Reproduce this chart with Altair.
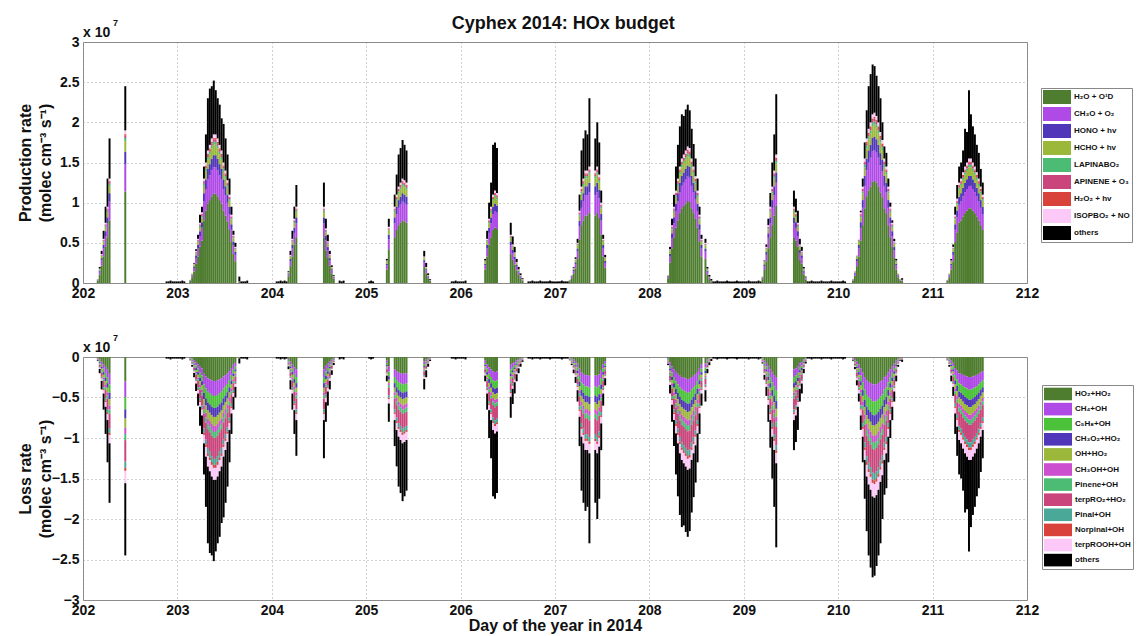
import altair as alt
import pandas as pd

# ---------------- data (units of 1e7 molec cm-3 s-1) ----------------
DAY_TICKS = [202, 203, 204, 205, 206, 207, 208, 209, 210, 211, 212]
PROD_TICKS = [0, 0.5, 1, 1.5, 2, 2.5, 3]
LOSS_TICKS = [0, -0.5, -1, -1.5, -2, -2.5, -3]
SLOT_H = 0.5  # half-hour data slots

# (day, start hour of first slot, total rate per slot, coloured (named-reaction) part per slot)
SEGMENTS = [
    (202, 3.5, [0.05, 0.2, 0.4, 0.65, 0.95, 1.3, 1.8], [0.05, 0.18, 0.36, 0.55, 0.75, 0.95, 1.3]),
    (202, 10.5, [2.45], [1.9]),
    (202, 21.0, [0.02, 0.02, 0.03, 0.02, 0.02, 0.02], [0, 0, 0, 0, 0, 0]),
    (203, 0.0, [0.02, 0.02, 0.03, 0.02], [0, 0, 0, 0]),
    (203, 3.0, [0.04, 0.12, 0.25, 0.42, 0.6, 0.85, 0.95, 1.45, 1.85, 2.3, 2.42, 2.45,
                2.52, 2.4, 2.3, 2.22, 2.05, 1.98, 1.8, 1.6, 1.3, 0.95, 0.65, 0.5],
               [0.04, 0.12, 0.24, 0.4, 0.55, 0.75, 0.88, 1.3, 1.5, 1.65, 1.72, 1.8,
                1.85, 1.85, 1.8, 1.72, 1.65, 1.5, 1.4, 1.28, 1.1, 0.85, 0.6, 0.45]),
    (203, 15.5, [0.08, 0.02, 0.02, 0.02, 0.03], [0.02, 0, 0, 0, 0]),
    (204, 1.0, [0.02, 0.02, 0.03, 0.02, 0.03, 0.02], [0, 0, 0, 0, 0, 0]),
    (204, 4.0, [0.15, 0.4, 0.65, 0.95, 1.22], [0.14, 0.35, 0.55, 0.8, 0.95]),
    (204, 13.0, [1.25, 0.8, 0.6, 0.4, 0.22, 0.1], [0.95, 0.68, 0.52, 0.36, 0.2, 0.09]),
    (204, 17.0, [0.03, 0.02, 0.03], [0, 0, 0]),
    (205, 0.5, [0.02, 0.03, 0.02], [0, 0, 0]),
    (205, 5.0, [0.3, 0.8], [0.28, 0.7]),
    (205, 7.0, [1.1, 1.35, 1.6, 1.68, 1.78, 1.72, 1.65], [0.95, 1.1, 1.2, 1.25, 1.3, 1.28, 1.25]),
    (205, 14.5, [0.4, 0.25, 0.12, 0.05], [0.33, 0.2, 0.1, 0.04]),
    (205, 21.5, [0.02, 0.02, 0.03, 0.02, 0.02], [0, 0, 0, 0, 0]),
    (206, 0.0, [0.02, 0.02, 0.03], [0, 0, 0]),
    (206, 6.0, [0.3, 0.65, 1.0, 1.25, 1.72, 1.75, 1.68], [0.28, 0.55, 0.8, 0.95, 1.1, 1.15, 1.12]),
    (206, 12.5, [0.75, 0.58, 0.45, 0.3, 0.2, 0.12, 0.06], [0.6, 0.48, 0.38, 0.26, 0.17, 0.1, 0.05]),
    (206, 17.0, [0.02, 0.02, 0.03, 0.02, 0.02, 0.02, 0.03, 0.02, 0.02, 0.02, 0.02, 0.03, 0.02, 0.02],
                [0, 0, 0, 0, 0, 0, 0, 0, 0, 0, 0, 0, 0, 0]),
    (207, 0.0, [0.02, 0.02, 0.02, 0.03, 0.02, 0.02, 0.02], [0, 0, 0, 0, 0, 0, 0]),
    (207, 3.5, [0.04, 0.1, 0.2, 0.32, 0.55, 1.1, 1.65, 1.8, 1.9, 1.85, 2.3],
               [0.04, 0.1, 0.19, 0.3, 0.5, 0.9, 1.2, 1.3, 1.4, 1.4, 1.45]),
    (207, 10.0, [1.8, 2.0, 1.75, 1.15, 0.6, 0.35], [1.4, 1.45, 1.35, 1.0, 0.55, 0.32]),
    (208, 4.5, [0.1, 0.45, 0.8, 1.1, 1.45, 1.72, 1.95, 2.1, 2.08, 2.16, 2.22, 2.15,
                1.92, 1.73, 1.55, 1.3, 0.95, 0.6],
               [0.1, 0.42, 0.72, 0.95, 1.15, 1.3, 1.45, 1.55, 1.6, 1.65, 1.7, 1.68,
                1.55, 1.45, 1.33, 1.15, 0.85, 0.55]),
    (208, 14.0, [0.55, 0.2, 0.1, 0.05], [0.5, 0.18, 0.08, 0.03]),
    (208, 16.0, [0.02, 0.02, 0.03, 0.02, 0.02, 0.02, 0.02, 0.03, 0.02, 0.02, 0.02, 0.02, 0.03, 0.02, 0.02, 0.02],
                [0, 0, 0, 0, 0, 0, 0, 0, 0, 0, 0, 0, 0, 0, 0, 0]),
    (209, 0.0, [0.02, 0.02, 0.03, 0.02, 0.02, 0.02, 0.02, 0.03, 0.02], [0, 0, 0, 0, 0, 0, 0, 0, 0]),
    (209, 4.5, [0.08, 0.28, 0.48, 0.8, 1.12, 1.5, 1.85, 2.35], [0.08, 0.27, 0.45, 0.72, 0.95, 1.2, 1.4, 1.6]),
    (209, 12.5, [1.15, 1.05, 0.9, 0.55, 0.45, 0.2, 0.08], [0.95, 0.88, 0.75, 0.48, 0.4, 0.18, 0.07]),
    (209, 16.0, [0.02, 0.02, 0.03, 0.02, 0.02, 0.02, 0.02, 0.03, 0.02, 0.02, 0.02, 0.02, 0.03, 0.02, 0.02, 0.02],
                [0, 0, 0, 0, 0, 0, 0, 0, 0, 0, 0, 0, 0, 0, 0, 0]),
    (210, 0.0, [0.02, 0.02, 0.03, 0.02], [0, 0, 0, 0]),
    (210, 3.5, [0.05, 0.15, 0.35, 0.55, 0.9, 1.3, 1.75, 2.15, 2.45, 2.6, 2.72, 2.7, 2.58,
                2.45, 2.3, 2.0, 1.7, 1.62, 1.3, 1.0, 0.78, 0.55, 0.3, 0.12, 0.05, 0.06],
               [0.05, 0.15, 0.35, 0.55, 0.88, 1.2, 1.55, 1.8, 1.92, 2.0, 2.1, 2.12, 2.08,
                2.0, 1.88, 1.78, 1.55, 1.45, 1.2, 0.95, 0.75, 0.52, 0.28, 0.12, 0.05, 0.04]),
    (211, 3.5, [0.04, 0.12, 0.3, 0.48, 0.95, 1.22, 1.45, 1.5, 1.65, 1.92, 1.88, 2.4, 2.1,
                1.95, 1.85, 1.72, 1.62, 1.42, 1.25],
               [0.04, 0.12, 0.28, 0.45, 0.85, 1.05, 1.25, 1.3, 1.38, 1.45, 1.5, 1.55, 1.55,
                1.5, 1.45, 1.38, 1.3, 1.2, 1.1]),
]

PROD_SPECIES = ["H\u2082O + O\u00b9D", "CH\u2083O + O\u2082", "HONO + hv", "HCHO + hv",
                "LAPINABO\u2082", "APINENE + O\u2083", "H\u2082O\u2082 + hv",
                "ISOPBO\u2082 + NO", "others"]
# share of the coloured part taken by each named production channel
PROD_SHARES = [0.60, 0.18, 0.08, 0.07, 0.02, 0.015, 0.01, 0.025]
PROD_COLORS = ["#4f7d30", "#b04ae6", "#5036b8", "#9bb83a", "#4cbb74",
               "#c9457b", "#d9423a", "#fbc8f7", "#000000"]

LOSS_SPECIES = ["HO\u2082+HO\u2082", "CH\u2084+OH", "C\u2085H\u2088+OH", "CH\u2083O\u2082+HO\u2082",
                "OH+HO\u2082", "CH\u2083OH+OH", "Pinene+OH", "terpRO\u2082+HO\u2082",
                "Pinal+OH", "Norpinal+OH", "terpROOH+OH", "others"]
# loss channels relative to the coloured production part
LOSS_SHARES = [0.16, 0.10, 0.08, 0.06, 0.06, 0.04, 0.04, 0.14, 0.04, 0.02, 0.08]
LOSS_COLORS = ["#4f7d30", "#b04ae6", "#4cc23a", "#5036b8", "#9bb83a", "#cc4fd0",
               "#4cbb74", "#c9457b", "#4aa898", "#d9423a", "#fbc8f7", "#000000"]


def build(sign, species, shares):
    rows = []
    for day, h0, totals, coloured in SEGMENTS:
        for k, (tot, col) in enumerate(zip(totals, coloured)):
            t0 = day + (h0 + k * SLOT_H) / 24.0
            t1 = t0 + SLOT_H / 24.0
            parts = [col * s for s in shares]
            parts.append(max(tot - sum(parts), 0.0))
            cum = 0.0
            for name, v in zip(species, parts):
                if v <= 0:
                    continue
                rows.append({"t0": t0, "t1": t1, "species": name,
                             "v0": sign * cum, "v1": sign * (cum + v)})
                cum += v
    return pd.DataFrame(rows)


prod_df = build(1, PROD_SPECIES, PROD_SHARES)
loss_df = build(-1, LOSS_SPECIES, LOSS_SHARES)

FONT = "Liberation Sans"
W, H1, H2 = 944, 241, 243


def panel(df, species, colors, domain, ticks, ytitle, legx, legy, sym_path, row_pad, xtitle, h):
    xaxis = dict(values=DAY_TICKS, format="d", labelFlush=False, labelPadding=3,
                 labelOverlap=False)
    if xtitle:
        xaxis["titlePadding"] = 0
    bars = alt.Chart(df).mark_rect(strokeWidth=0).encode(
        x=alt.X("t0:Q", scale=alt.Scale(domain=[202, 212], nice=False, zero=False),
                axis=alt.Axis(**xaxis), title=xtitle if xtitle else None),
        x2="t1:Q",
        y=alt.Y("v0:Q", scale=alt.Scale(domain=domain, nice=False, zero=False),
                axis=alt.Axis(values=ticks, format="~g", labelPadding=4,
                              minExtent=28, maxExtent=28, titlePadding=2,
                              titleLineHeight=20),
                title=ytitle),
        y2="v1:Q",
        color=alt.Color("species:N",
                        scale=alt.Scale(domain=species, range=colors),
                        title=None,
                        legend=alt.Legend(orient="none", legendX=legx, legendY=legy,
                                          symbolType=sym_path, symbolSize=196,
                                          symbolStrokeWidth=0, symbolOpacity=1,
                                          labelFont=FONT, labelFontWeight="bold",
                                          labelFontSize=8, labelColor="#111",
                                          labelLimit=57, labelOffset=17,
                                          rowPadding=row_pad, padding=2,
                                          strokeColor="#888", fillColor="white")),
    )
    exp = alt.Chart(pd.DataFrame({"s": ["x 10"]})).mark_text(
        align="left", baseline="middle", font=FONT, fontWeight="bold", fontSize=14,
        color="#111").encode(x=alt.value(0), y=alt.value(-9), text="s:N")
    sup = alt.Chart(pd.DataFrame({"s": ["7"]})).mark_text(
        align="left", baseline="middle", font=FONT, fontWeight="bold", fontSize=9,
        color="#111").encode(x=alt.value(30), y=alt.value(-19), text="s:N")
    return alt.layer(bars, exp, sup).properties(width=W, height=h)


top = panel(prod_df, PROD_SPECIES, PROD_COLORS, [0, 3], PROD_TICKS,
            ["Production rate", "(molec cm\u207b\u00b3 s\u207b\u00b9)"],
            958, 46, "M-1,-1H3V1H-1Z", 3, None, H1)
bottom = panel(loss_df, LOSS_SPECIES, LOSS_COLORS, [-3, 0], LOSS_TICKS,
               ["Loss rate", "(molec cm\u207b\u00b3 s\u207b\u00b9)"],
               959, 28, "M-1,-0.9H3V0.9H-1Z", 1.1, "Day of the year in 2014", H2)

chart = alt.vconcat(top, bottom, spacing=32).resolve_scale(color="independent").properties(
    title=alt.TitleParams("Cyphex 2014: HOx budget", font=FONT, fontWeight="bold",
                          fontSize=18, color="#111", anchor="middle", offset=-14, dx=-12),
    padding={"left": 8, "top": 6, "right": 0, "bottom": 0},
).configure_view(stroke="#888", strokeWidth=1).configure_axis(
    grid=True, gridDash=[1, 3], gridColor="#999", gridOpacity=0.9, domain=False, ticks=False,
    labelFont=FONT, labelFontWeight="bold", labelFontSize=14, labelColor="#111",
    titleFont=FONT, titleFontWeight="bold", titleFontSize=16, titleColor="#111",
)

chart.save("out.html", embed_options={"renderer": "svg", "actions": False})
